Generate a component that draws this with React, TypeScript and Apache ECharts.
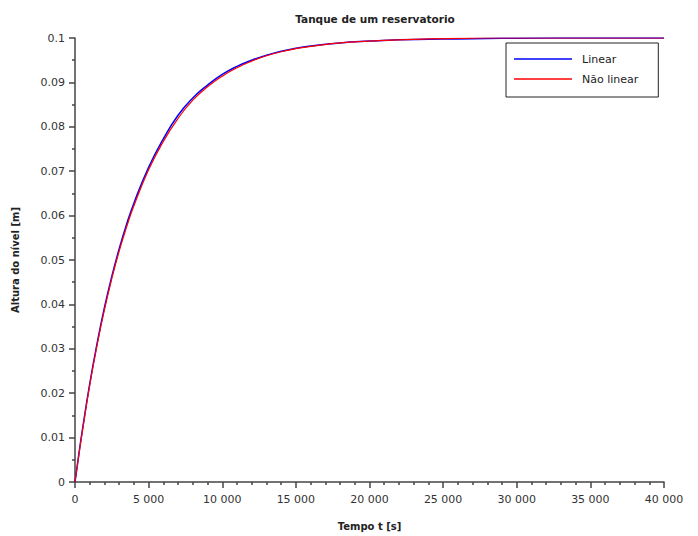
import React, { useEffect, useRef } from "react";
import * as echarts from "echarts";

const TITLE = "Tanque de um reservatorio";
const X_NAME = "Tempo t [s]";
const Y_NAME = "Altura do nível [m]";
const SERIES_NAMES = ["Linear", "Não linear"];

const times = [0, 250, 500, 1000, 1500, 2000, 2500, 3000, 3500, 4000, 5000, 6000, 7000, 8000, 9000, 10000, 11000, 12000, 13000, 14000, 15000, 16000, 18000, 20000, 22000, 24000, 26000, 28000, 30000, 35000, 40000];
const linear = [0, 0.006, 0.0117, 0.0221, 0.0312, 0.0393, 0.0463, 0.0525, 0.058, 0.0628, 0.0709, 0.0773, 0.0826, 0.0865, 0.0894, 0.0918, 0.0936, 0.095, 0.0961, 0.097, 0.0977, 0.0982, 0.0989, 0.0993, 0.0996, 0.0997, 0.0998, 0.0999, 0.09995, 0.1, 0.1];
const naoLinear = [0, 0.0058, 0.0114, 0.0218, 0.0308, 0.0388, 0.0458, 0.052, 0.0574, 0.0622, 0.0703, 0.0767, 0.0819, 0.086, 0.089, 0.0914, 0.0933, 0.0948, 0.096, 0.0969, 0.0976, 0.0981, 0.0989, 0.0993, 0.0996, 0.0998, 0.0999, 0.1, 0.1, 0.1, 0.1];

const FONT = "DejaVu Sans";

export default function App() {
  const ref = useRef<HTMLDivElement>(null);
  useEffect(() => {
    if (!ref.current) return;
    const chart = echarts.init(ref.current, undefined, { renderer: "svg" });
    const axisCommon = {
      axisLine: { show: true, lineStyle: { color: "#444", width: 1.5 } },
      axisTick: { show: true, inside: false, length: 6, lineStyle: { color: "#444", width: 1.5 } },
      minorTick: { show: true, length: 3, lineStyle: { color: "#444", width: 1.5 } },
      splitLine: { show: false },
      axisLabel: { color: "#333", fontFamily: FONT, fontSize: 11 },
      nameTextStyle: { color: "#222", fontFamily: FONT, fontSize: 10, fontWeight: "bold" as const },
    };
    chart.setOption({
      animation: false,
      backgroundColor: "#fff",
      title: {
        text: TITLE,
        left: 370,
        textAlign: "center",
        top: 8,
        textStyle: { fontFamily: FONT, fontSize: 10.5, fontWeight: "bold", color: "#222" },
      },
      legend: {
        data: SERIES_NAMES,
        orient: "vertical",
        left: 506,
        top: 43,
        padding: [10, 6, 12, 8],
        itemGap: 8,
        itemWidth: 58,
        itemHeight: 1.5,
        icon: "rect",
        borderColor: "#222",
        borderWidth: 1,
        textStyle: { fontFamily: FONT, fontSize: 11, color: "#222", padding: [0, 14, 0, 5], height: 12, lineHeight: 12 },
      },
      grid: { left: 75, right: 34, top: 38, bottom: 49 },
      xAxis: {
        type: "value",
        min: 0,
        max: 40000,
        interval: 5000,
        name: X_NAME,
        nameLocation: "middle",
        nameGap: 39,
        ...axisCommon,
        minorTick: { ...axisCommon.minorTick, splitNumber: 5 },
        axisLabel: {
          ...axisCommon.axisLabel,
          margin: 12,
          formatter: (v: number) => String(v).replace(/\B(?=(\d{3})+(?!\d))/g, " "),
        },
      },
      yAxis: {
        type: "value",
        min: 0,
        max: 0.1,
        interval: 0.01,
        name: Y_NAME,
        nameLocation: "middle",
        nameGap: 55,
        ...axisCommon,
        minorTick: { ...axisCommon.minorTick, splitNumber: 2 },
        axisLabel: {
          ...axisCommon.axisLabel,
          margin: 10,
          formatter: (v: number) => String(Number(v.toFixed(3))),
        },
      },
      series: [
        {
          name: SERIES_NAMES[0],
          type: "line",
          data: times.map((t, i) => [t, linear[i]]),
          showSymbol: false,
          symbol: "none",
          smooth: true,
          lineStyle: { color: "#0000ff", width: 1.5 },
          itemStyle: { color: "#0000ff" },
          z: 2,
        },
        {
          name: SERIES_NAMES[1],
          type: "line",
          data: times.map((t, i) => [t, naoLinear[i]]),
          showSymbol: false,
          symbol: "none",
          smooth: true,
          lineStyle: { color: "#ff0000", width: 1.2 },
          itemStyle: { color: "#ff0000" },
          z: 3,
        },
      ],
    });
    return () => chart.dispose();
  }, []);
  return <div ref={ref} style={{ position: "absolute", left: 0, top: 0, width: 698, height: 536 }} />;
}
